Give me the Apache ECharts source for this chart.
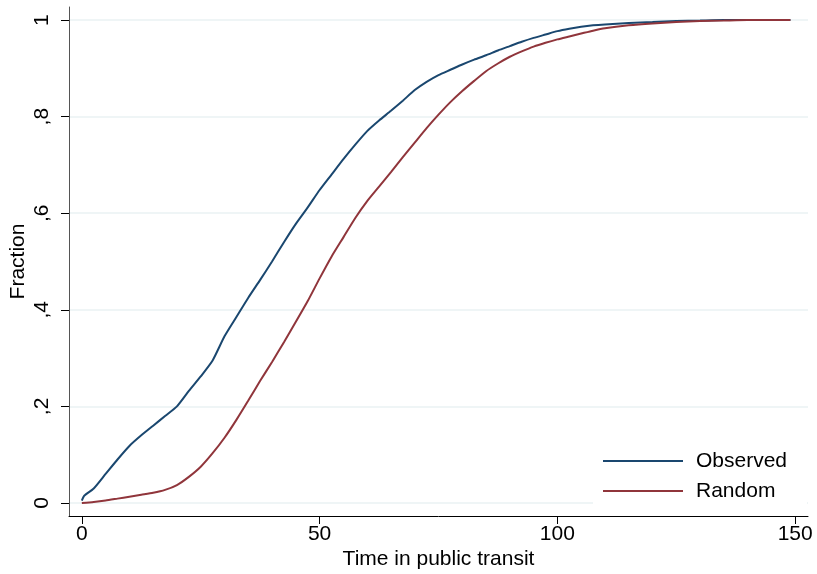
<!DOCTYPE html>
<html><head><meta charset="utf-8">
<script src="https://cdn.jsdelivr.net/npm/echarts@6/dist/echarts.min.js"></script>
<style>html,body{margin:0;padding:0;background:#fff}#c{width:817px;height:574px}</style>
</head><body><div id="c"></div>
<script>
const obsX = [0,0.5,2.5,5,7.5,10,12.5,15,17.5,20,22.5,25,27.5,30,32.5,35,37.5,40,42.5,45,47.5,50,52.5,55,57.5,60,62.5,65,67.5,70,72.5,75,77.5,80,82.5,85,87.5,90,92.5,95,97.5,100,102.5,105,107.5,110,115,120,125,130,135,149];
const obsY = [0.005,0.015,0.03,0.06,0.09,0.118,0.14,0.16,0.18,0.2,0.232,0.262,0.295,0.345,0.385,0.425,0.462,0.5,0.54,0.578,0.612,0.648,0.68,0.712,0.742,0.77,0.792,0.812,0.833,0.855,0.872,0.886,0.897,0.908,0.918,0.927,0.937,0.946,0.955,0.963,0.97,0.977,0.982,0.986,0.989,0.991,0.994,0.996,0.998,0.999,1.0,1.0];
const rndX = [0,2.5,5,7.5,10,12.5,15,17.5,20,22.5,25,27.5,30,32.5,35,37.5,40,42.5,45,47.5,50,52.5,55,57.5,60,62.5,65,67.5,70,72.5,75,77.5,80,82.5,85,87.5,90,92.5,95,97.5,100,102.5,105,107.5,110,115,120,125,130,135,140,149];
const rndY = [0,0.002,0.005,0.009,0.013,0.017,0.021,0.027,0.037,0.054,0.075,0.103,0.135,0.172,0.212,0.253,0.292,0.333,0.375,0.418,0.465,0.51,0.55,0.59,0.625,0.655,0.685,0.716,0.746,0.776,0.804,0.83,0.853,0.874,0.894,0.91,0.924,0.935,0.945,0.953,0.96,0.966,0.972,0.978,0.983,0.989,0.993,0.996,0.998,0.999,1.0,1.0];
const xTicks = [0,50,100,150];
const yTicks = [0,0.2,0.4,0.6,0.8,1];
const yTickLabels = ['0',',2',',4',',6',',8','1'];
const seriesNames = ['Observed','Random'];

const font = 'Liberation Sans, Arial, sans-serif';
const fs = 21;
const chart = echarts.init(document.getElementById('c'), null, {renderer:'canvas'});
chart.setOption({
  animation:false,
  backgroundColor:'#fff',
  grid:{left:69,right:9,top:7,bottom:58,containLabel:false,outerBoundsMode:'none'},
  legend:{
    left:593, top:442, orient:'vertical',
    backgroundColor:'#fff',
    padding:[8,20,5,10],
    itemWidth:80, itemHeight:2, itemGap:8, icon:'rect',
    textStyle:{fontFamily:font,fontSize:fs,color:'#000',lineHeight:22,padding:[0,0,0,8]},
    data:seriesNames
  },
  xAxis:{
    type:'value', min:-2.7, max:152.7,
    name:'Time in public transit', nameLocation:'middle', nameGap:33, nameMoveOverlap:false,
    nameTextStyle:{fontFamily:font,fontSize:fs,color:'#000'},
    axisLine:{onZero:false,lineStyle:{color:'#000',width:1}},
    axisTick:{customValues:xTicks,length:8,lineStyle:{color:'#000'}},
    axisLabel:{customValues:xTicks,margin:8,fontFamily:font,fontSize:fs,color:'#000'},
    splitLine:{show:false}
  },
  yAxis:{
    type:'value', min:-0.027, max:1.027,
    name:'Fraction', nameLocation:'middle', nameGap:40, nameMoveOverlap:false,
    nameTextStyle:{fontFamily:font,fontSize:fs,color:'#000'},
    axisLine:{show:true,onZero:false,lineStyle:{color:'#555',width:1}},
    axisTick:{show:true,customValues:yTicks,length:8,lineStyle:{color:'#000'}},
    axisLabel:{customValues:yTicks,rotate:90,margin:16,fontFamily:font,fontSize:fs,color:'#000',
      formatter:v=>{const i=yTicks.findIndex(t=>Math.abs(t-v)<1e-9);return i>=0?yTickLabels[i]:'';}},
    splitLine:{show:true,lineStyle:{color:'#eaf2f3',width:1.5}}
  },
  series:[
    {name:seriesNames[0],type:'line',symbol:'none',smooth:0.2,data:obsX.map((x,i)=>[x,obsY[i]]),lineStyle:{color:'#1a476f',width:2},itemStyle:{color:'#1a476f'}},
    {name:seriesNames[1],type:'line',symbol:'none',smooth:0.2,data:rndX.map((x,i)=>[x,rndY[i]]),lineStyle:{color:'#90353b',width:2},itemStyle:{color:'#90353b'}}
  ]
});
</script></body></html>
